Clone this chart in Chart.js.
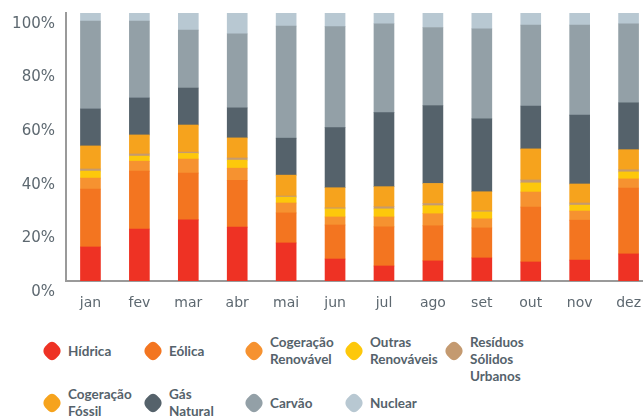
<!DOCTYPE html>
<html>
<head>
<meta charset="utf-8">
<script src="https://cdn.jsdelivr.net/npm/chart.js"></script>
<style>
  html, body { margin: 0; padding: 0; background: #fff; overflow: hidden; }
  #wrap { position: relative; width: 643px; height: 417px; overflow: hidden; }
  #chart { position: absolute; left: 0; top: 0; }
  .item { position: absolute; font: bold 13.5px Lato, sans-serif; color: #55626b; }
  .mark { position: absolute; width: 14px; height: 14px; border-radius: 5px; transform: scale(1.1, 1.18) rotate(45deg); }
  .txt { position: absolute; line-height: 17px; white-space: nowrap; }
</style>
</head>
<body>
<div id="wrap">
  <canvas id="chart" width="655" height="320"></canvas>
  <div id="legend"></div>
</div>
<script>
// months
const months = ['jan', 'fev', 'mar', 'abr', 'mai', 'jun', 'jul', 'ago', 'set', 'out', 'nov', 'dez'];

// series, share of monthly production (%), bottom to top
const hidrica     = [12.7, 19.4, 22.8, 20.1, 14.2,  8.2,  5.6,  7.5,  8.6,  7.1,  7.8, 10.1];
const eolica      = [21.6, 21.6, 17.5, 17.5, 11.2, 12.7, 14.6, 13.1, 11.2, 20.5, 14.9, 24.6];
const cogRenov    = [ 4.1,  3.7,  5.2,  4.5,  3.7,  3.0,  3.7,  4.5,  3.4,  5.6,  3.4,  3.4];
const outrasRenov = [ 2.6,  1.9,  2.1,  3.0,  2.2,  3.0,  3.0,  3.0,  2.6,  3.4,  2.2,  2.6];
const rsu         = [ 0.8,  0.8,  0.5,  0.8,  0.4,  0.4,  0.8,  0.8,  0.4,  1.1,  0.8,  0.8];
const cogFossil   = [ 8.6,  7.1, 10.1,  7.5,  7.8,  7.5,  7.5,  7.5,  7.1, 11.6,  7.1,  7.5];
const gasNatural  = [13.8, 13.8, 13.8, 11.2, 13.8, 22.4, 27.6, 29.1, 27.2, 16.0, 25.7, 17.5];
const carvao      = [32.8, 28.7, 21.6, 27.6, 41.8, 37.7, 33.2, 29.1, 33.6, 30.2, 33.6, 29.5];
const nuclear     = [ 3.0,  3.0,  6.3,  7.8,  4.9,  5.2,  4.1,  5.6,  6.0,  4.5,  4.5,  4.1];

const seriesLabels = [
  ['Hídrica'], ['Eólica'], ['Cogeração', 'Renovável'], ['Outras', 'Renováveis'],
  ['Resíduos', 'Sólidos', 'Urbanos'], ['Cogeração', 'Fóssil'], ['Gás', 'Natural'],
  ['Carvão'], ['Nuclear']
];
const seriesData = [hidrica, eolica, cogRenov, outrasRenov, rsu, cogFossil, gasNatural, carvao, nuclear];
const seriesColors = ['#ee3224', '#f37520', '#f69230', '#fdc80b', '#c49a70', '#f6a31d', '#55626b', '#93a0a7', '#b8c8d2'];

const yTicks = [0, 20, 40, 60, 80, 100];

const axisGrey = '#9a9a9a';
const textGrey = '#5d6870';

new Chart(document.getElementById('chart').getContext('2d'), {
  type: 'bar',
  data: {
    labels: months,
    datasets: seriesData.map((d, i) => ({
      label: seriesLabels[i].join(' '),
      data: d,
      backgroundColor: seriesColors[i],
      borderWidth: 0,
      barThickness: 20
    }))
  },
  options: {
    responsive: false,
    animation: false,
    devicePixelRatio: 1,
    layout: { padding: { top: 13, right: 0, bottom: 0, left: 0 } },
    plugins: { legend: { display: false }, tooltip: { enabled: false } },
    scales: {
      x: {
        stacked: true,
        grid: { display: false, drawTicks: false },
        border: { color: axisGrey, width: 2 },
        ticks: { color: textGrey, font: { family: 'DejaVu Sans', size: 14 }, padding: 14, maxRotation: 0 },
        afterFit: s => { s.height = 39; }
      },
      y: {
        stacked: true,
        min: 0,
        max: 100,
        grid: { display: false, drawTicks: false },
        border: { color: axisGrey, width: 2 },
        afterBuildTicks: s => { s.ticks = yTicks.map(v => ({ value: v })); },
        ticks: {
          color: textGrey,
          font: { family: 'DejaVu Sans', size: 15 },
          padding: 11,
          labelOffset: 11,
          callback: v => v + '%'
        },
        afterFit: s => { s.width = 66; s.paddingTop = 0; s.paddingBottom = 0; }
      }
    }
  }
});

// HTML legend (two rows, five columns)
const legend = document.getElementById('legend');
const colX = [43, 144, 245, 345, 445];
const rowY = [351, 403];
seriesLabels.forEach((lines, i) => {
  const row = i < 5 ? 0 : 1;
  const col = i % 5;
  const cy = rowY[row];
  const item = document.createElement('div');
  item.className = 'item';
  item.style.left = colX[col] + 'px';
  item.style.top = '0px';
  const mark = document.createElement('div');
  mark.className = 'mark';
  mark.style.background = seriesColors[i];
  mark.style.left = '1.5px';
  mark.style.top = (cy - 7) + 'px';
  item.appendChild(mark);
  const txt = document.createElement('div');
  txt.className = 'txt';
  txt.style.left = '25px';
  txt.style.top = (cy - 17 * Math.min(lines.length, 2) / 2) + 'px';
  txt.innerHTML = lines.join('<br>');
  item.appendChild(txt);
  legend.appendChild(item);
});
</script>
</body>
</html>
